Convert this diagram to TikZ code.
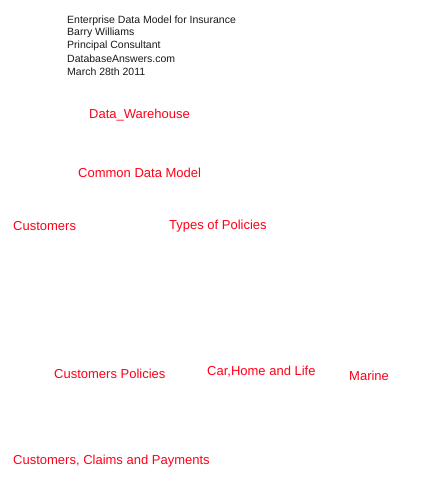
\documentclass[tikz,border=0pt]{standalone}
\usepackage{fontspec}
\setmainfont{Liberation Sans}
\usepackage{tikz}
\usetikzlibrary{positioning}
\definecolor{mred}{rgb}{1, 0, 0.1}
\definecolor{mgray}{rgb}{0.1, 0.1, 0.1}

\begin{document}
\begin{tikzpicture}[x=1pt, y=-1pt,
    header/.style={anchor=west, inner sep=0pt, text=mgray, font=\fontsize{10.5}{12}\selectfont},
    label/.style={anchor=west, inner sep=0pt, text=mred, font=\fontsize{13}{15}\selectfont}]
      \useasboundingbox [fill=white] (0, 0) rectangle (429, 499);

      \node [header] (title) at (67, 20.5) {Enterprise Data Model for Insurance};
      \node [header] (author) at (67, 33) {Barry Williams};
      \node [header] (role) at (67, 46) {Principal Consultant};
      \node [header] (site) at (67, 58.5) {DatabaseAnswers.com};
      \node [header] (date) at (67, 71.5) {March 28th 2011};

      \node [label] (warehouse) at (89, 115) {Data\_Warehouse};
      \node [label] (common) at (78, 173) {Common Data Model};
      \node [label] (customers) at (13, 226) {Customers};
      \node [label] (policytypes) at (169, 226) {Types of Policies};
      \node [label] (custpolicies) at (54, 374) {Customers Policies};
      \node [label] (carhome) at (207, 372) {Car,Home and Life};
      \node [label] (marine) at (349, 375.5) {Marine};
      \node [label] (claims) at (13, 461) {Customers, Claims and Payments};
    \end{tikzpicture}
\end{document}
